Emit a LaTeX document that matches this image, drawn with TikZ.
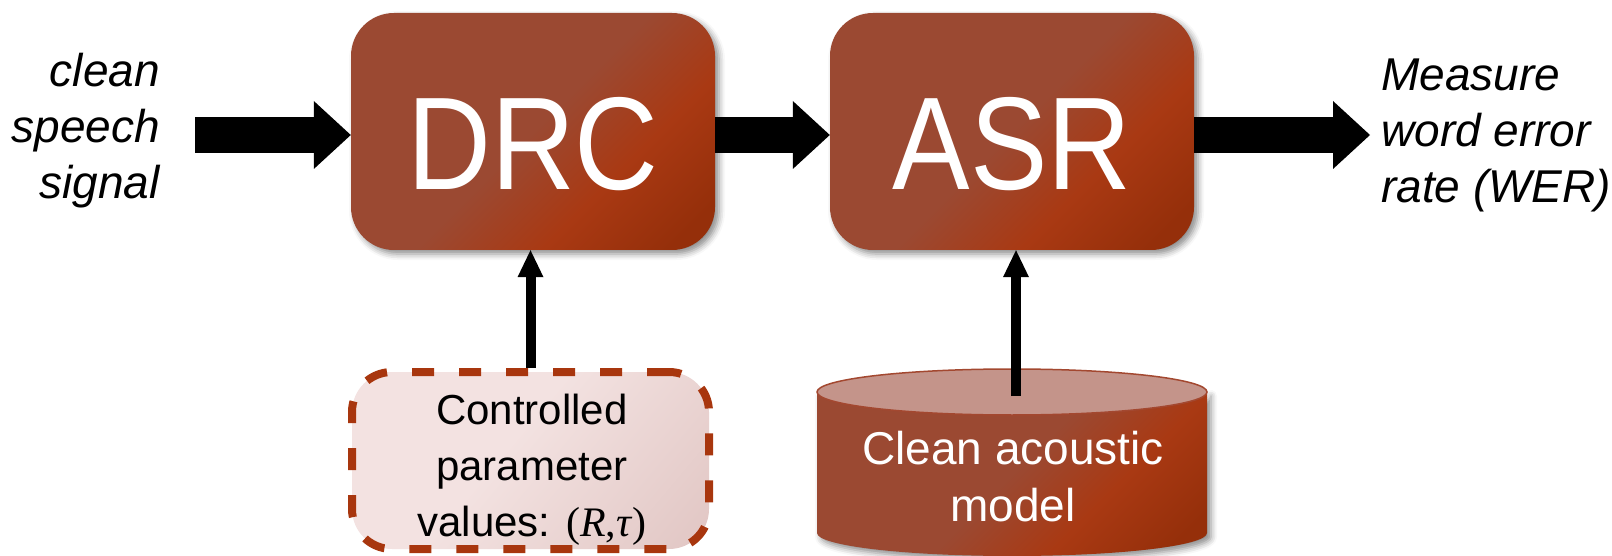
\documentclass[tikz,border=0pt]{standalone}
\usepackage{fontspec}
\setmainfont{Liberation Sans}
\newfontfamily\blockfont[FakeStretch=0.88]{Liberation Sans}
\newfontfamily\symfont{Liberation Serif}
\usetikzlibrary{arrows.meta,shadows.blur}

\definecolor{rustA}{RGB}{155,73,50}
\definecolor{rustB}{RGB}{169,57,19}
\definecolor{rustC}{RGB}{149,47,10}
\definecolor{pinkA}{RGB}{243,226,225}
\definecolor{pinkB}{RGB}{218,187,184}
\definecolor{dashred}{RGB}{168,54,14}
\definecolor{capface}{RGB}{196,148,138}
\definecolor{capedge}{RGB}{163,72,48}

\pgfdeclarehorizontalshading{rust}{100bp}{color(0bp)=(rustA); color(50bp)=(rustA); color(65bp)=(rustB); color(80bp)=(rustC); color(100bp)=(rustC)}
\pgfdeclarehorizontalshading{blush}{100bp}{color(0bp)=(pinkA); color(45bp)=(pinkA); color(100bp)=(pinkB)}

\tikzset{
  softshadow/.style={blur shadow={shadow xshift=4pt, shadow yshift=-4pt, shadow blur radius=6pt, shadow opacity=45}},
  stage/.style={rounded corners=43pt, minimum width=364pt, minimum height=237pt,
    shading=rust, shading angle=-45, text=white, inner sep=0pt,
    font=\blockfont\fontsize{132}{132}\selectfont, text height=116pt, text depth=0pt, softshadow},
  paramframe/.style={rounded corners=40pt, minimum width=357pt, minimum height=177pt,
    shading=blush, shading angle=-40, draw=dashred, line width=8pt, dash pattern=on 22pt off 25pt},
  bodytext/.style={font=\fontsize{42}{56}\selectfont, align=center, inner sep=0pt, opacity=1},
  sidetext/.style={font=\itshape\fontsize{46}{56}\selectfont, inner sep=0pt, opacity=1},
  bigarrow/.style={opacity=1, draw=black, fill=black, line width=36pt,
    -{Triangle[length=37pt,width=68pt,line width=0pt,fill=black]}},
  thinarrow/.style={opacity=1, draw=black, line width=10pt,
    -{Triangle[length=27pt,width=26pt,line width=0pt,fill=black]}},
}

\begin{document}
\begin{tikzpicture}[x=1pt, y=-1pt]
\useasboundingbox (0,0) rectangle (1612,556);

% processing stages
\node[stage] (drc) at (533,131.5) {DRC};
\node[stage] (asr) at (1012,131.5) {ASR};

% controlled parameters
\node[paramframe] (param) at (530.5,460.5) {};
\node[bodytext, text=black] (paramtext) at (532,470) {Controlled\\parameter\\values: {\symfont(\textit{R},\textit{τ})}};

% acoustic model database
\path[shading=rust, shading angle=-45, softshadow]
  (817,392) -- (817,533) arc[start angle=180, end angle=0, x radius=195, y radius=23]
  -- (1207,392) arc[start angle=0, end angle=180, x radius=195, y radius=23] -- cycle;
\path[fill=capface, draw=capedge, line width=1.5pt, opacity=1] (1012,392) ellipse[x radius=195, y radius=23];
\node[bodytext, text=white, font=\fontsize{46}{57}\selectfont] (model) at (1013,477) {Clean acoustic\\model};
\coordinate (mtop) at (1016,396);

% signal labels
\node[sidetext, align=right, anchor=east] (speech) at (160,131) {clean\\speech\\signal};
\node[sidetext, align=left, anchor=west] (wer) at (1381,135) {Measure\\word error\\rate (WER)};
\coordinate (src) at (195,135);
\coordinate (out) at (1370,135);

% signal flow
\draw[bigarrow] (src) -- (drc.west |- src);
\draw[bigarrow] (drc.east |- src) -- (asr.west |- src);
\draw[bigarrow] (asr.east |- out) -- (out);
\draw[thinarrow] (param.north) -- (param.north |- drc.south);
\draw[thinarrow] (mtop) -- (mtop |- asr.south);
\end{tikzpicture}
\end{document}
